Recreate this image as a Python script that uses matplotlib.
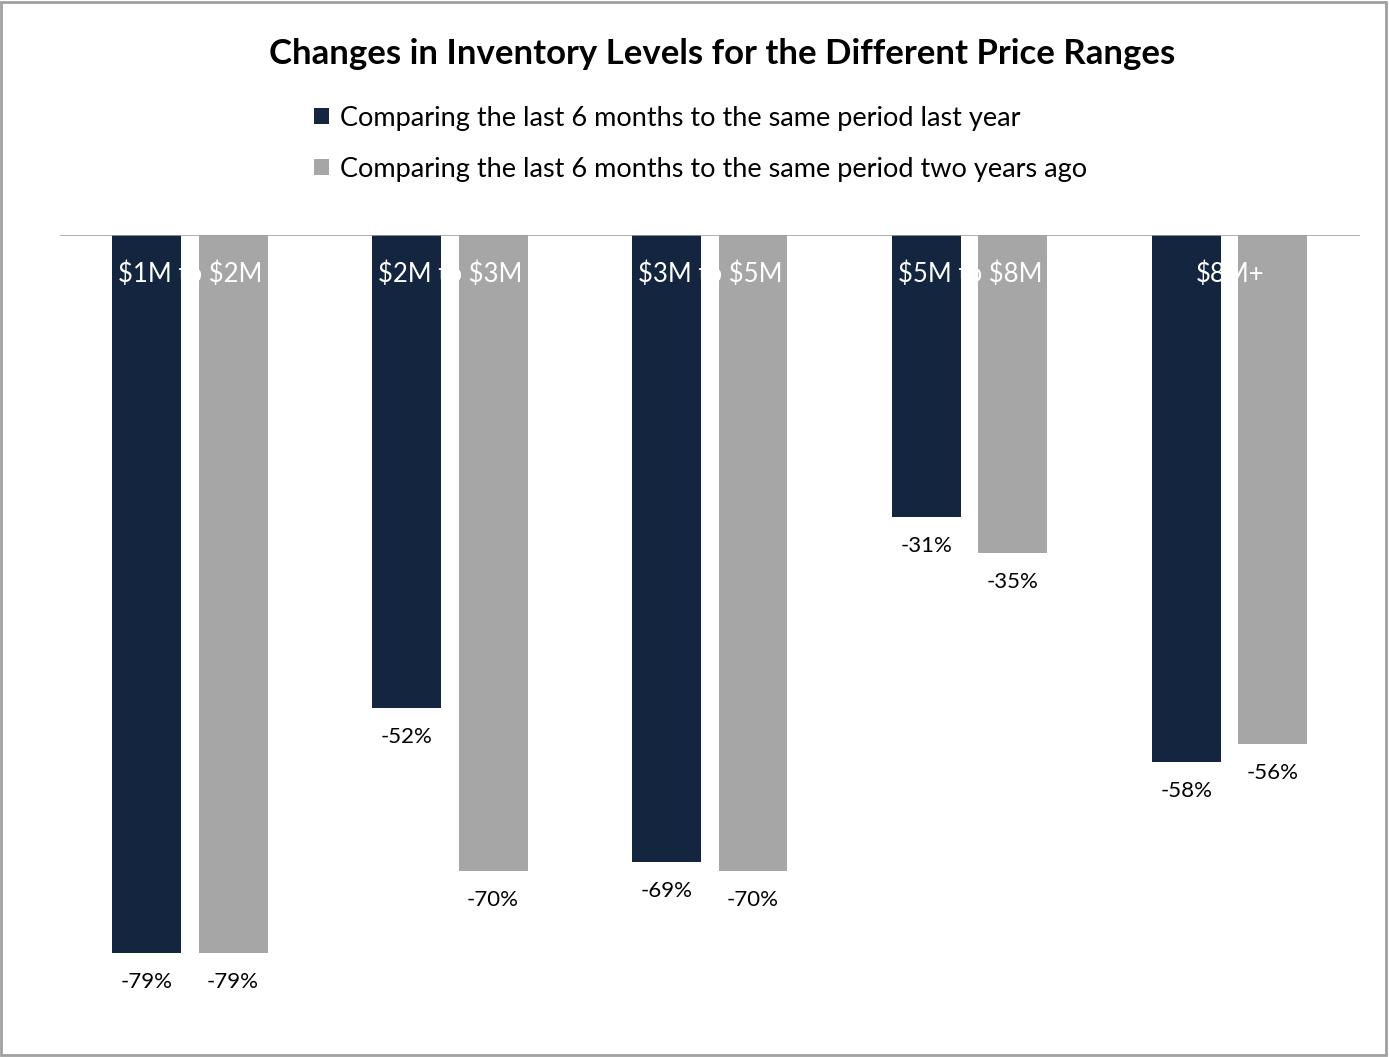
import matplotlib.pyplot as plt
import matplotlib.patches as mpatches
import numpy as np

plt.rcParams['font.family'] = ['Lato', 'DejaVu Sans']
plt.rcParams['text.parse_math'] = False

categories = ['$1M to $2M', '$2M to $3M', '$3M to $5M', '$5M to $8M', '$8M+']
last_year = [-79, -52, -69, -31, -58]
two_years = [-79, -70, -70, -35, -56]
series_names = ['Comparing the last 6 months to the same period last year',
                'Comparing the last 6 months to the same period two years ago']

navy = '#13253f'
grey = '#a6a6a6'

fig = plt.figure(figsize=(13.89, 10.57), dpi=100)
ax = fig.add_axes([0.0432, 0.016, 0.9357, 0.7617])

x = np.arange(len(categories))
w = 0.265
off = 0.166
b1 = ax.bar(x - off, last_year, w, color=navy, label=series_names[0])
b2 = ax.bar(x + off, two_years, w, color=grey, label=series_names[1])

for bars, vals in ((b1, last_year), (b2, two_years)):
    for rect, v in zip(bars, vals):
        ax.annotate(f'{v}%', (rect.get_x() + rect.get_width() / 2, v),
                    xytext=(0, -21), textcoords='offset points',
                    ha='center', va='center', fontsize=16, color='black')

for i, c in enumerate(categories):
    ax.annotate(c, (i, 0), xytext=(0, -28), textcoords='offset points',
                ha='center', va='center', fontsize=18.5, color='white')

ax.set_xlim(-0.5, 4.5)
ax.set_ylim(-88.6, 0)
ax.axhline(0, color='#a0a0a0', lw=1.2)
for s in ax.spines.values():
    s.set_visible(False)
ax.set_xticks([])
ax.set_yticks([])

fig.text(0.52, 0.949, 'Changes in Inventory Levels for the Different Price Ranges',
         ha='center', va='center', fontsize=25, fontweight='bold')

fig.legend(handles=[b1, b2], loc='upper left', bbox_to_anchor=(0.226, 0.900),
           frameon=False, fontsize=19.5, handlelength=0.55, handleheight=0.55,
           handletextpad=0.4, labelspacing=0.96, borderaxespad=0, borderpad=0)

fig.patches.append(mpatches.Rectangle((0.001, 0.002), 0.997, 0.996, transform=fig.transFigure,
                                      fill=False, edgecolor='#a0a0a0', lw=2))

fig.savefig('out.png', dpi=100)
